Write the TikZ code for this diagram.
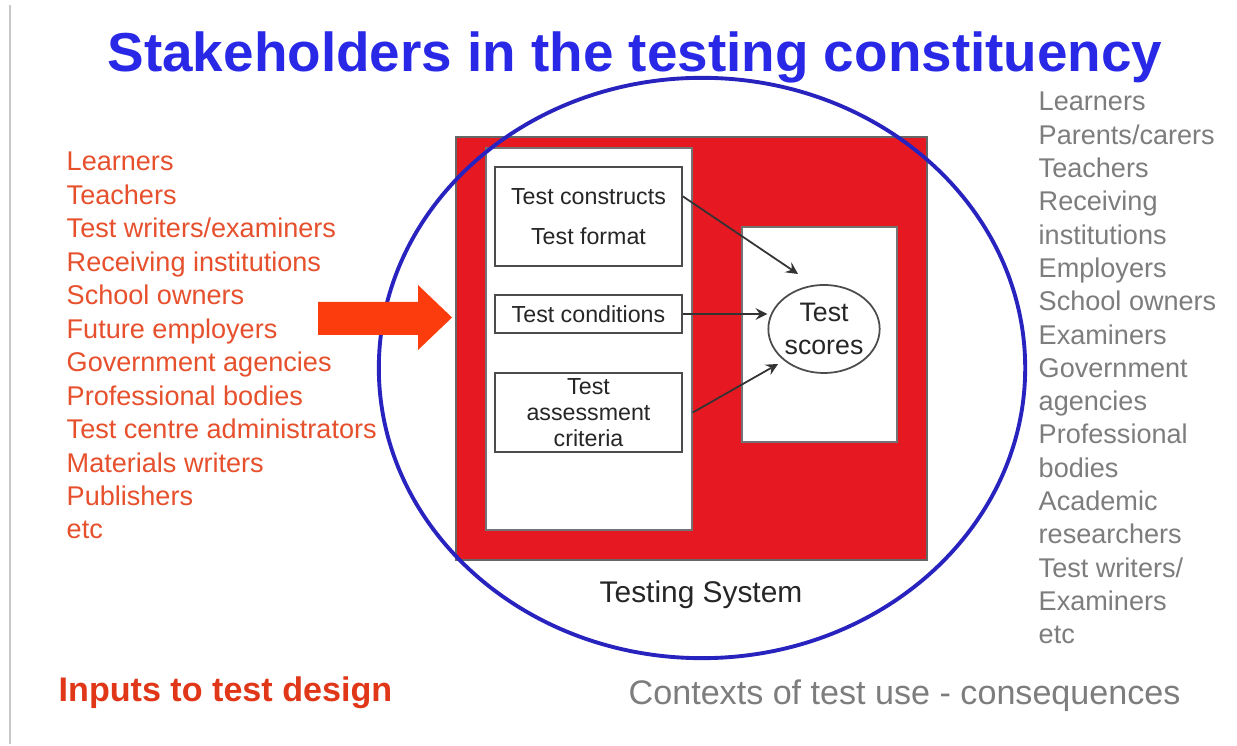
\documentclass[tikz,border=0pt]{standalone}
\usepackage{fontspec}
\setmainfont{Liberation Sans}
\usepackage{tikz}
\usetikzlibrary{arrows,shapes,positioning}
\usepackage{xcolor}
\definecolor{tsblue}{RGB}{40,40,230}
\definecolor{tsring}{RGB}{40,35,190}
\definecolor{tsred}{RGB}{230,25,35}
\definecolor{tsorange}{RGB}{230,80,45}
\definecolor{tsinput}{RGB}{225,55,25}
\definecolor{tsarrow}{RGB}{252,60,12}
\definecolor{tsgrey}{RGB}{125,125,125}
\tikzstyle{panel} = [draw=black!55, fill=white, line width=0.4pt, inner sep=0pt]
\tikzstyle{factor} = [draw=black!70, fill=white, line width=0.5pt, align=center, inner sep=0pt, minimum width=1.87cm, text=black!85]
\tikzstyle{link} = [line width=0.5pt, color=black!80, ->, >=stealth]
\tikzstyle{inlist} = [anchor=base west, inner sep=0pt, text=tsorange, font=\fontsize{7.7}{9}\selectfont]
\tikzstyle{uselist} = [anchor=base west, inner sep=0pt, text=tsgrey, font=\fontsize{7.7}{9}\selectfont]

\begin{document}
\begin{tikzpicture}[x=0.01cm, y=-0.01cm]
% Page
\fill[white] (0,0) rectangle (1237,744);
\draw[black!22, line width=0.7pt] (10,5) -- (10,744);

% Title
\node[anchor=base, text=tsblue, font=\fontsize{15.6}{18}\selectfont\bfseries] (title) at (635,72) {Stakeholders in the testing constituency};

% Testing system
\node[draw=black!60, fill=tsred, minimum width=4.71cm, minimum height=4.23cm] (system) at (691.5,348.5) {};
\node[panel, minimum width=2.06cm, minimum height=3.82cm] (left) at (589,339) {};
\node[panel, minimum width=1.55cm, minimum height=2.15cm] (right) at (819.5,334.5) {};
\node[factor, minimum height=0.99cm, font=\fontsize{6.6}{11.4}\selectfont] (constructs) at (588.5,216.5) {Test constructs\\Test format};
\node[factor, minimum height=0.38cm, font=\fontsize{6.6}{8}\selectfont] (conditions) at (588.5,314) {Test conditions};
\node[factor, minimum height=0.79cm, font=\fontsize{6.6}{7.3}\selectfont] (criteria) at (588.5,412.5) {Test\\assessment\\criteria};
\node[ellipse, draw=black!70, fill=white, line width=0.5pt, inner sep=0pt, minimum width=1.08cm, minimum height=0.88cm, align=center, text=black!85, font=\fontsize{7.6}{9.4}\selectfont] (scores) at (824,329) {Test\\scores};
\node[anchor=base, text=black!85, font=\fontsize{8.5}{10}\selectfont] (syslabel) at (701,603) {Testing System};

% Links to the scores
\coordinate (tipa) at (798,274);
\coordinate (tipc) at (778,364);
\draw[link] (constructs.12) -- (tipa);
\draw[link] (conditions.east) -- (conditions.east -| scores.west);
\draw[link] (criteria.east -| left.east) -- (tipc);

% Constituency
\node[ellipse, draw=tsring, line width=1.1pt, minimum width=6.46cm, minimum height=5.8cm] (ring) at (702,368) {};

% Inputs
\foreach \t [count=\i] in {Learners, Teachers, Test writers/examiners, Receiving institutions, School owners, Future employers, Government agencies, Professional bodies, Test centre administrators, Materials writers, Publishers, etc}
  \node[inlist] (in\i) at (66,{171+33.45*(\i-1)}) {\t};
\fill[tsarrow] (318,302) -- (418,302) -- (418,285) -- (452,317.5) -- (418,350) -- (418,335) -- (318,335) -- cycle;
\node[anchor=base west, inner sep=0pt, text=tsinput, font=\fontsize{9.7}{11}\selectfont\bfseries] (inputs) at (58,702) {Inputs to test design};

% Uses
\foreach \t [count=\i] in {Learners, Parents/carers, Teachers, Receiving, institutions, Employers, School owners, Examiners, Government, agencies, Professional, bodies, Academic, researchers, Test writers/, Examiners, etc}
  \node[uselist] (use\i) at (1038,{111+33.3*(\i-1)}) {\t};
\node[anchor=base west, inner sep=0pt, text=tsgrey, font=\fontsize{9.7}{11}\selectfont] (contexts) at (628,705) {Contexts of test use - consequences};
\end{tikzpicture}
\end{document}
